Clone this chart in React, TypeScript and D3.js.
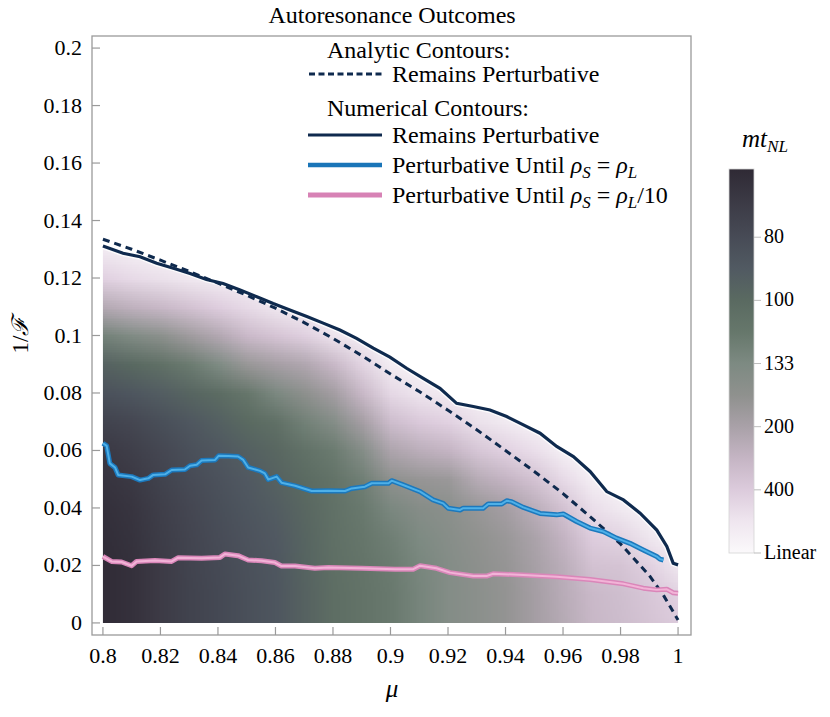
import React, { useMemo } from "react";
import * as d3 from "d3";

// grid of the density plot: one row of 1000/mt_NL values per mu column, f = 0 .. 0.13
const muGrid = [0.8, 0.81, 0.82, 0.83, 0.84, 0.85, 0.86, 0.87, 0.88, 0.89, 0.9, 0.91, 0.92, 0.93, 0.94, 0.95, 0.96, 0.97, 0.98, 0.99, 1.0];
const fGrid = [0, 0.01, 0.02, 0.03, 0.04, 0.05, 0.06, 0.07, 0.08, 0.09, 0.1, 0.11, 0.12, 0.13];
const invTNL = [
  [15.0, 15.0, 15.0, 14.9, 14.7, 14.4, 14.0, 13.2, 12.0, 10.6, 8.0, 4.5, 2.2, 1.0],
  [14.6, 14.6, 14.6, 14.5, 14.3, 14.0, 13.5, 12.8, 11.6, 10.1, 7.3, 4.0, 1.8, 0.6],
  [13.8, 13.8, 13.8, 13.7, 13.5, 13.2, 12.8, 12.2, 11.0, 9.4, 6.5, 3.6, 1.5, 0.3],
  [13.2, 13.2, 13.1, 13.0, 12.8, 12.5, 12.1, 11.5, 10.4, 8.5, 5.5, 3.0, 1.1, 0],
  [12.7, 12.7, 12.6, 12.4, 12.2, 11.9, 11.5, 10.8, 9.8, 7.4, 4.6, 2.4, 0.8, 0],
  [12.1, 12.1, 12.0, 11.8, 11.6, 11.3, 10.8, 10.0, 8.8, 5.8, 3.5, 1.8, 0.5, 0],
  [11.6, 11.6, 11.5, 11.3, 11.0, 10.6, 10.2, 9.4, 7.6, 5.2, 2.9, 1.2, 0, 0],
  [10.6, 10.6, 10.5, 10.4, 10.2, 9.9, 9.3, 8.1, 6.4, 4.7, 2.3, 0.6, 0, 0],
  [9.6, 9.6, 9.5, 9.4, 9.3, 9.1, 8.5, 7.0, 5.3, 3.6, 1.4, 0.2, 0, 0],
  [9.1, 9.1, 9.0, 8.8, 8.6, 8.2, 7.0, 5.2, 3.6, 2.1, 0.7, 0, 0, 0],
  [8.6, 8.6, 8.5, 8.2, 7.6, 6.3, 4.8, 3.3, 1.9, 0.8, 0, 0, 0, 0],
  [7.8, 7.8, 7.7, 7.4, 6.9, 5.9, 4.2, 2.6, 1.3, 0.4, 0, 0, 0, 0],
  [7.0, 7.0, 7.0, 6.8, 6.5, 5.7, 3.8, 2.2, 1.0, 0, 0, 0, 0, 0],
  [6.5, 6.5, 6.4, 6.2, 5.8, 4.4, 2.8, 1.5, 0.5, 0, 0, 0, 0, 0],
  [6.0, 6.0, 5.9, 5.7, 5.2, 3.8, 2.2, 1.0, 0.2, 0, 0, 0, 0, 0],
  [5.2, 5.2, 5.1, 4.9, 4.2, 3.0, 1.6, 0.4, 0, 0, 0, 0, 0, 0],
  [4.4, 4.3, 4.2, 3.8, 3.0, 1.8, 0.6, 0, 0, 0, 0, 0, 0, 0],
  [3.6, 3.5, 3.0, 2.4, 1.6, 0.7, 0, 0, 0, 0, 0, 0, 0, 0],
  [3.3, 3.2, 2.9, 2.1, 1.0, 0.2, 0, 0, 0, 0, 0, 0, 0, 0],
  [2.9, 2.7, 2.2, 1.2, 0.3, 0, 0, 0, 0, 0, 0, 0, 0, 0],
  [2.5, 2.2, 1.2, 0.3, 0, 0, 0, 0, 0, 0, 0, 0, 0, 0],
];

// contours, [mu, 1/F]
const analyticRemains: [number, number][] = [
  [0.8, 0.1335], [0.81, 0.13], [0.82, 0.1262], [0.83, 0.1223], [0.84, 0.1182], [0.85, 0.114],
  [0.86, 0.1095], [0.87, 0.1045], [0.88, 0.099], [0.89, 0.093], [0.9, 0.0866], [0.91, 0.0805],
  [0.92, 0.074], [0.93, 0.0672], [0.94, 0.06], [0.95, 0.0527], [0.96, 0.045], [0.97, 0.0365],
  [0.98, 0.0275], [0.99, 0.0165], [0.995, 0.0095], [1.0, 0.001],
];
const numericRemains: [number, number][] = [
  [0.8, 0.1311], [0.807, 0.1286], [0.8129, 0.1274], [0.8187, 0.1251], [0.8245, 0.1234], [0.8303, 0.1216],
  [0.836, 0.1195], [0.8418, 0.1181], [0.8477, 0.1158], [0.8535, 0.1135], [0.8592, 0.1111], [0.865, 0.1089],
  [0.8709, 0.1066], [0.8766, 0.1043], [0.8824, 0.1019], [0.8882, 0.099], [0.894, 0.0956], [0.8998, 0.0925],
  [0.9056, 0.0886], [0.9114, 0.0851], [0.9172, 0.0816], [0.923, 0.0764], [0.9288, 0.0753], [0.9346, 0.0741],
  [0.9404, 0.0718], [0.9462, 0.0689], [0.952, 0.066], [0.9578, 0.0614], [0.9636, 0.0579], [0.9694, 0.0527],
  [0.9752, 0.0457], [0.981, 0.0428], [0.9868, 0.0382], [0.9926, 0.0323], [0.9961, 0.0266], [0.9983, 0.0208],
  [1.0, 0.0202],
];
const untilEqual: [number, number][] = [
  [0.8, 0.0625], [0.8013, 0.0616], [0.8024, 0.0555], [0.8042, 0.0541], [0.8053, 0.0515], [0.81, 0.0509],
  [0.8129, 0.0497], [0.8158, 0.0503], [0.8175, 0.0515], [0.8216, 0.0517], [0.8239, 0.0532], [0.8285, 0.0534],
  [0.8303, 0.0547], [0.8326, 0.055], [0.8343, 0.0565], [0.839, 0.0567], [0.8403, 0.0582], [0.8436, 0.0581],
  [0.847, 0.0579], [0.8488, 0.0567], [0.8505, 0.0541], [0.8546, 0.0529], [0.8563, 0.052], [0.8575, 0.0499],
  [0.8587, 0.0503], [0.8604, 0.0509], [0.8621, 0.0488], [0.8668, 0.0477], [0.8726, 0.0459], [0.8784, 0.046],
  [0.8842, 0.0459], [0.8865, 0.0468], [0.8911, 0.0474], [0.8935, 0.0486], [0.8993, 0.0486], [0.9004, 0.0495],
  [0.9044, 0.048], [0.9103, 0.0457], [0.9148, 0.0428], [0.9183, 0.0416], [0.9201, 0.0399], [0.9242, 0.0393],
  [0.9253, 0.0399], [0.9322, 0.0399], [0.934, 0.0414], [0.9387, 0.0414], [0.9404, 0.0425], [0.9421, 0.0422],
  [0.9462, 0.0402], [0.952, 0.0381], [0.9578, 0.0376], [0.9601, 0.0379], [0.9647, 0.0353], [0.9694, 0.033],
  [0.974, 0.0318], [0.9786, 0.0295], [0.9833, 0.0277], [0.9879, 0.0254], [0.9926, 0.0231], [0.9937, 0.0222],
  [0.9949, 0.0219],
];
const untilTenth: [number, number][] = [
  [0.8, 0.0231], [0.803, 0.0214], [0.8065, 0.0212], [0.81, 0.0199], [0.8117, 0.0214], [0.8181, 0.0217],
  [0.8239, 0.0214], [0.8262, 0.0227], [0.8343, 0.0225], [0.8407, 0.0228], [0.8424, 0.024], [0.847, 0.0234],
  [0.8505, 0.0219], [0.8552, 0.0216], [0.8598, 0.021], [0.8621, 0.0198], [0.8668, 0.0198], [0.8737, 0.019],
  [0.8784, 0.0193], [0.8899, 0.019], [0.9016, 0.0187], [0.9079, 0.0187], [0.9103, 0.0199], [0.916, 0.019],
  [0.9207, 0.0175], [0.9288, 0.0163], [0.9334, 0.0163], [0.9357, 0.0171], [0.9462, 0.0167], [0.9578, 0.0161],
  [0.9694, 0.0151], [0.981, 0.0136], [0.9879, 0.0121], [0.9926, 0.0115], [0.9961, 0.0117], [0.9983, 0.0105],
  [1.0, 0.0103],
];

const xTicks = [0.8, 0.82, 0.84, 0.86, 0.88, 0.9, 0.92, 0.94, 0.96, 0.98, 1.0];
const yTicks = [0, 0.02, 0.04, 0.06, 0.08, 0.1, 0.12, 0.14, 0.16, 0.18, 0.2];
const barTickMt = [Infinity, 400, 200, 133.33, 100, 80];
const barTickLabels = ["Linear", "400", "200", "133", "100", "80"];
const barMax = 15.2;

// colour map along 1000/mt_NL
const barStops = [0, 1.25, 2.5, 3.75, 5, 6.25, 7.5, 8.75, 10, 11.25, 12.5, 13.75, 15.2];
const barColours = ["#fbf9fb", "#efe6ef", "#dccbdc", "#c5b5c4", "#a9a1a8", "#8f918e", "#7d8a82",
  "#66776b", "#5a6a61", "#515a62", "#474b56", "#3d3c47", "#2f2a35"];

const FONT = "Liberation Serif";
const BASE = 16; // the serif face only resolves at small font sizes here, so text is scaled up
const NAVY = "#0f2a4e";
const frame = { left: 92, right: 691, top: 36, bottom: 635 };

type TxtProps = {
  x: number;
  y: number;
  size: number;
  anchor?: string;
  italic?: boolean;
  rotate?: number;
  children: React.ReactNode;
};

const Txt = ({ x, y, size, anchor, italic, rotate, children }: TxtProps) => (
  <text
    transform={`translate(${x},${y})${rotate ? ` rotate(${rotate})` : ""} scale(${size / BASE})`}
    fontSize={BASE}
    fontFamily={FONT}
    textAnchor={anchor}
    fontStyle={italic ? "italic" : undefined}
  >
    {children}
  </text>
);

const Sub = ({ children }: { children: React.ReactNode }) => (
  <>
    <tspan fontStyle="italic" fontSize={11.3} dy={3.4}>
      {children}
    </tspan>
  </>
);

export default function App() {
  const x = d3.scaleLinear().domain([0.7962, 1.0045]).range([frame.left, frame.right]);
  const y = d3.scaleLinear().domain([-0.0042, 0.2042]).range([frame.bottom, frame.top]);
  const colour = d3.scaleLinear<string>().domain(barStops).range(barColours).clamp(true);
  const bar = d3.scaleLinear().domain([0, barMax]).range([553, 169]);
  const fmt = d3.format("~g");

  const heatUrl = useMemo(() => {
    const c = document.createElement("canvas");
    c.width = muGrid.length;
    c.height = fGrid.length;
    const ctx = c.getContext("2d")!;
    muGrid.forEach((_, i) => {
      fGrid.forEach((__, j) => {
        ctx.fillStyle = colour(invTNL[i][j] ?? 0);
        ctx.fillRect(i, fGrid.length - 1 - j, 1, 1);
      });
    });
    return c.toDataURL();
  }, []);

  const line = d3.line<[number, number]>().x((d) => x(d[0])).y((d) => y(d[1]));
  const region = d3
    .area<[number, number]>()
    .x((d) => x(d[0]))
    .y0(y(0))
    .y1((d) => y(d[1]));

  const halfMu = (muGrid[1] - muGrid[0]) / 2;
  const halfF = (fGrid[1] - fGrid[0]) / 2;
  const imgX0 = x(muGrid[0] - halfMu);
  const imgX1 = x(muGrid[muGrid.length - 1] + halfMu);
  const imgY0 = y(fGrid[fGrid.length - 1] + halfF);
  const imgY1 = y(fGrid[0] - halfF);

  return (
    <svg width={830} height={717} style={{ position: "absolute", left: 0, top: 0, background: "#fff" }}>
      <defs>
        <clipPath id="heatClip">
          <path d={region(numericRemains) ?? ""} />
        </clipPath>
        <linearGradient id="barGrad" x1="0" y1="1" x2="0" y2="0">
          {barStops.map((s, i) => (
            <stop key={i} offset={s / barMax} stopColor={barColours[i]} />
          ))}
        </linearGradient>
      </defs>

      <Txt x={392} y={23} size={24} anchor="middle">
        Autoresonance Outcomes
      </Txt>

      {/* density */}
      <image
        href={heatUrl}
        x={imgX0}
        y={imgY0}
        width={imgX1 - imgX0}
        height={imgY1 - imgY0}
        preserveAspectRatio="none"
        clipPath="url(#heatClip)"
      />

      {/* contours */}
      <path d={line(numericRemains) ?? ""} fill="none" stroke="#fff" strokeWidth={6} opacity={0.8} />
      <path d={line(analyticRemains) ?? ""} fill="none" stroke={NAVY} strokeWidth={3} strokeDasharray="7 5" />
      <path d={line(numericRemains) ?? ""} fill="none" stroke={NAVY} strokeWidth={3.2} />
      <path d={line(untilEqual) ?? ""} fill="none" stroke="#1c79bd" strokeWidth={5} strokeLinejoin="round" />
      <path d={line(untilEqual) ?? ""} fill="none" stroke="#4eb0e8" strokeWidth={2} strokeLinejoin="round" />
      <path d={line(untilTenth) ?? ""} fill="none" stroke="#da86b9" strokeWidth={5} strokeLinejoin="round" />
      <path d={line(untilTenth) ?? ""} fill="none" stroke="#f2b3d7" strokeWidth={2} strokeLinejoin="round" />

      {/* frame and ticks */}
      <rect x={frame.left} y={frame.top} width={frame.right - frame.left} height={frame.bottom - frame.top} fill="none" stroke="#9a9a9a" strokeWidth={1.3} />
      {xTicks.map((t) => (
        <g key={"x" + t}>
          <line x1={x(t)} x2={x(t)} y1={frame.bottom} y2={frame.bottom - 8} stroke="#9a9a9a" strokeWidth={1.2} />
          <Txt x={x(t)} y={663} size={22} anchor="middle">
            {fmt(t)}
          </Txt>
        </g>
      ))}
      {yTicks.map((t) => (
        <g key={"y" + t}>
          <line x1={frame.left} x2={frame.left + 8} y1={y(t)} y2={y(t)} stroke="#9a9a9a" strokeWidth={1.2} />
          <Txt x={82} y={y(t) + 7} size={22} anchor="end">
            {fmt(t)}
          </Txt>
        </g>
      ))}

      <Txt x={392} y={697} size={25} anchor="middle" italic>
        μ
      </Txt>
      <Txt x={28} y={335} size={23} anchor="middle" rotate={-90}>
        1/<tspan fontStyle="italic">ℱ</tspan>
      </Txt>

      {/* legend */}
      <Txt x={327} y={58} size={24}>Analytic Contours:</Txt>
      <line x1={309} x2={382} y1={74} y2={74} stroke={NAVY} strokeWidth={3} strokeDasharray="6 3.5" />
      <Txt x={392} y={82} size={24}>Remains Perturbative</Txt>
      <Txt x={327} y={116} size={24}>Numerical Contours:</Txt>
      <line x1={308} x2={382} y1={135} y2={135} stroke={NAVY} strokeWidth={3} />
      <Txt x={392} y={143} size={24}>Remains Perturbative</Txt>
      <line x1={308} x2={382} y1={165} y2={165} stroke="#1a75b8" strokeWidth={4.5} />
      <Txt x={392} y={173} size={24}>
        Perturbative Until <tspan fontStyle="italic">ρ</tspan>
        <Sub>S</Sub>
        <tspan dy={-3.4}>{" = "}</tspan>
        <tspan fontStyle="italic">ρ</tspan>
        <Sub>L</Sub>
      </Txt>
      <line x1={308} x2={382} y1={195} y2={195} stroke="#d782b5" strokeWidth={5} />
      <Txt x={392} y={203} size={24}>
        Perturbative Until <tspan fontStyle="italic">ρ</tspan>
        <Sub>S</Sub>
        <tspan dy={-3.4}>{" = "}</tspan>
        <tspan fontStyle="italic">ρ</tspan>
        <Sub>L</Sub>
        <tspan dy={-3.4}>/10</tspan>
      </Txt>

      {/* colour bar */}
      <Txt x={742} y={147} size={25} italic>
        mt<tspan fontSize={11} dy={3.4}>NL</tspan>
      </Txt>
      <rect x={729} y={bar(barMax)} width={25} height={bar(0) - bar(barMax)} fill="url(#barGrad)" stroke="#d4d4d4" strokeWidth={0.8} />
      {barTickMt.map((m, i) => {
        const yy = bar(1000 / m);
        return (
          <g key={"b" + i}>
            <line x1={754} x2={761} y1={yy} y2={yy} stroke="#bdbdbd" strokeWidth={1} />
            <Txt x={764} y={yy + 6} size={20}>
              {barTickLabels[i]}
            </Txt>
          </g>
        );
      })}
    </svg>
  );
}
